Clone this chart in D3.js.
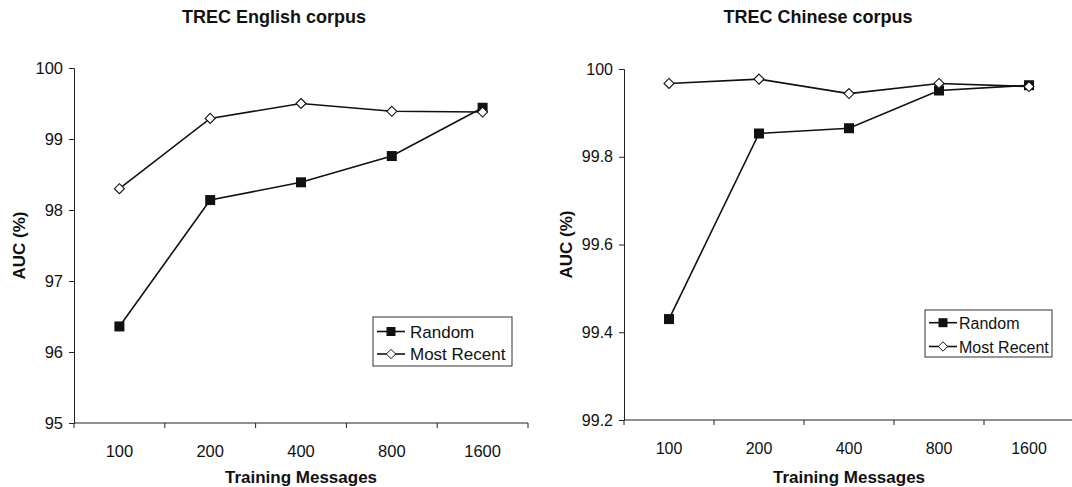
<!DOCTYPE html>
<html>
<head>
<meta charset="utf-8">
<script src="https://cdn.jsdelivr.net/npm/d3@7"></script>
<style>
  body { margin: 0; background: #fff; }
  svg text { font-family: "Liberation Sans", Arial, sans-serif; fill: #111; }
</style>
</head>
<body>
<div id="chart"></div>
<script>
const categories = ["100", "200", "400", "800", "1600"];

// TREC English corpus
const englishRandom = [96.36, 98.14, 98.39, 98.76, 99.44];
const englishRecent = [98.30, 99.29, 99.50, 99.39, 99.38];
const englishTicks = [95, 96, 97, 98, 99, 100];

// TREC Chinese corpus
const chineseRandom = [99.43, 99.853, 99.865, 99.951, 99.963];
const chineseRecent = [99.967, 99.977, 99.944, 99.967, 99.960];
const chineseTicks = [99.2, 99.4, 99.6, 99.8, 100];

const svg = d3.select("#chart")
  .append("svg")
  .attr("width", 1072)
  .attr("height", 487);

function panel(opts) {
  const g = svg.append("g");

  const x = d3.scaleBand()
    .domain(categories)
    .range([opts.left, opts.right]);

  const y = d3.scaleLinear()
    .domain([opts.ticks[0], opts.ticks[opts.ticks.length - 1]])
    .range([opts.bottom, opts.top]);

  // y axis
  const yAxis = g.append("g")
    .attr("transform", `translate(${opts.left},0)`)
    .call(d3.axisLeft(y).tickValues(opts.ticks).tickSize(5).tickPadding(6)
      .tickFormat(opts.fmt));
  yAxis.selectAll("text").style("font-size", opts.tickFont + "px");
  yAxis.select(".domain").attr("stroke", "#222");
  yAxis.selectAll(".tick line").attr("stroke", "#222");

  // x axis: ticks on band boundaries, labels at centers
  const xAxis = g.append("g")
    .attr("transform", `translate(0,${opts.bottom})`);
  xAxis.append("line")
    .attr("x1", opts.left).attr("x2", opts.right)
    .attr("stroke", "#222");
  const bounds = categories.map(c => x(c)).concat([opts.right]);
  xAxis.selectAll(".tk")
    .data(bounds)
    .join("line")
    .attr("class", "tk")
    .attr("x1", d => d).attr("x2", d => d)
    .attr("y1", 0).attr("y2", 5)
    .attr("stroke", "#222");
  xAxis.selectAll(".lb")
    .data(categories)
    .join("text")
    .attr("class", "lb")
    .attr("x", d => x(d) + x.bandwidth() / 2)
    .attr("y", 34)
    .attr("text-anchor", "middle")
    .style("font-size", opts.tickFont + "px")
    .text(d => d);

  // titles
  g.append("text")
    .attr("x", opts.titleX).attr("y", 23)
    .attr("text-anchor", "middle")
    .style("font-size", "18px").style("font-weight", "bold")
    .text(opts.title);
  g.append("text")
    .attr("x", opts.xLabelX).attr("y", 483)
    .attr("text-anchor", "middle")
    .style("font-size", "17px").style("font-weight", "bold")
    .text("Training Messages");
  g.append("text")
    .attr("transform", `translate(${opts.yLabelX},${(opts.top + opts.bottom) / 2}) rotate(-90)`)
    .attr("text-anchor", "middle")
    .style("font-size", "17px").style("font-weight", "bold")
    .text("AUC (%)");

  const line = d3.line()
    .x((d, i) => x(categories[i]) + x.bandwidth() / 2)
    .y(d => y(d));

  // Random series
  g.append("path")
    .datum(opts.random)
    .attr("d", line)
    .attr("fill", "none").attr("stroke", "#111").attr("stroke-width", 1.6);
  // Most Recent series
  g.append("path")
    .datum(opts.recent)
    .attr("d", line)
    .attr("fill", "none").attr("stroke", "#111").attr("stroke-width", 1.6);

  g.selectAll(".sq")
    .data(opts.random)
    .join("rect")
    .attr("class", "sq")
    .attr("x", (d, i) => x(categories[i]) + x.bandwidth() / 2 - 5)
    .attr("y", d => y(d) - 5)
    .attr("width", 10).attr("height", 10)
    .attr("fill", "#111");

  const diamond = d3.symbol().type(d3.symbolDiamond2).size(64);
  g.selectAll(".dm")
    .data(opts.recent)
    .join("path")
    .attr("class", "dm")
    .attr("transform", (d, i) => `translate(${x(categories[i]) + x.bandwidth() / 2},${y(d)})`)
    .attr("d", diamond)
    .attr("fill", "#fff").attr("stroke", "#111").attr("stroke-width", 1.1);

  // legend
  const L = opts.legend;
  const lg = g.append("g").attr("transform", `translate(${L.x},${L.y})`);
  lg.append("rect")
    .attr("width", L.w).attr("height", L.h)
    .attr("fill", "#fff").attr("stroke", "#333").attr("stroke-width", 1);
  const items = [
    {name: "Random", type: "square"},
    {name: "Most Recent", type: "diamond"}
  ];
  items.forEach((it, i) => {
    const cy = L.rows[i];
    lg.append("line")
      .attr("x1", 4).attr("x2", 32).attr("y1", cy).attr("y2", cy)
      .attr("stroke", "#111").attr("stroke-width", 1.6);
    if (it.type === "square") {
      lg.append("rect")
        .attr("x", 13.5).attr("y", cy - 4.5).attr("width", 9).attr("height", 9)
        .attr("fill", "#111");
    } else {
      lg.append("path")
        .attr("transform", `translate(18,${cy})`)
        .attr("d", d3.symbol().type(d3.symbolDiamond2).size(56))
        .attr("fill", "#fff").attr("stroke", "#111");
    }
    lg.append("text")
      .attr("x", L.textX).attr("y", cy + 6)
      .style("font-size", L.font + "px")
      .text(it.name);
  });
}

panel({
  title: "TREC English corpus", titleX: 274,
  left: 74, right: 528, top: 68, bottom: 423,
  ticks: englishTicks, fmt: d3.format("d"), tickFont: 16.5,
  random: englishRandom, recent: englishRecent,
  yLabelX: 25, xLabelX: 301,
  legend: {x: 373, y: 317, w: 139, h: 49, rows: [14.5, 37], textX: 37, font: 17}
});

panel({
  title: "TREC Chinese corpus", titleX: 818,
  left: 624, right: 1074, top: 69, bottom: 420,
  ticks: chineseTicks, fmt: d => d === 100 ? "100" : d3.format(".1f")(d), tickFont: 16,
  random: chineseRandom, recent: chineseRecent,
  yLabelX: 572, xLabelX: 849,
  legend: {x: 925, y: 310, w: 127, h: 47, rows: [12.7, 36.5], textX: 34, font: 16}
});
</script>
</body>
</html>
